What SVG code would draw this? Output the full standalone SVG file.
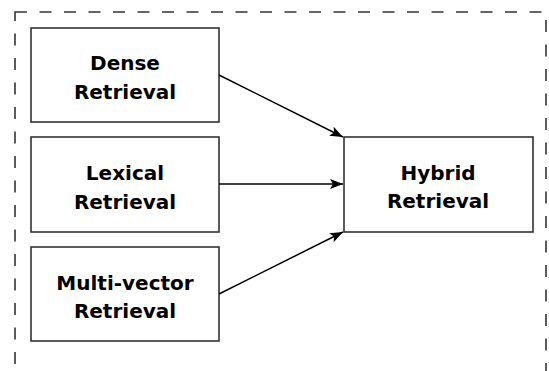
<svg xmlns="http://www.w3.org/2000/svg" width="549" height="371" viewBox="0 0 549 371">
<style>
.box{fill:#fff;stroke:#333;stroke-width:1.6}
.t{font-family:"Comic Sans MS","DejaVu Sans",sans-serif;font-weight:bold;font-size:20px;fill:#000;text-anchor:middle}
.c{stroke:#000;stroke-width:1.5;fill:none}
</style>
<defs>
<marker id="ah" viewBox="0 0 13 10" refX="13" refY="5" markerWidth="13" markerHeight="10" markerUnits="userSpaceOnUse" orient="auto">
<path d="M0,0 L13,5 L0,10 L3,5 Z" fill="#000"/>
</marker>
</defs>
<rect x="15" y="12" width="531" height="380" fill="none" stroke="#333" stroke-width="1.6" stroke-dasharray="12,12.5"/>
<g id="dense"><rect class="box" x="31" y="28" width="188" height="94"/><text class="t" x="125" y="70">Dense</text><text class="t" x="125" y="99">Retrieval</text></g>
<g id="lexical"><rect class="box" x="31" y="137" width="188" height="95"/><text class="t" x="125" y="180">Lexical</text><text class="t" x="125" y="209">Retrieval</text></g>
<g id="multivector"><rect class="box" x="31" y="247" width="188" height="94"/><text class="t" x="125" y="290">Multi-vector</text><text class="t" x="125" y="318">Retrieval</text></g>
<g id="hybrid"><rect class="box" x="344" y="137" width="189" height="95"/><text class="t" x="438" y="180">Hybrid</text><text class="t" x="438" y="208">Retrieval</text></g>
<g id="connectors">
<line class="c" x1="219" y1="75" x2="343" y2="137" marker-end="url(#ah)"/>
<line class="c" x1="219" y1="184" x2="343" y2="184" marker-end="url(#ah)"/>
<line class="c" x1="219" y1="294" x2="343" y2="232" marker-end="url(#ah)"/>
</g>
</svg>
